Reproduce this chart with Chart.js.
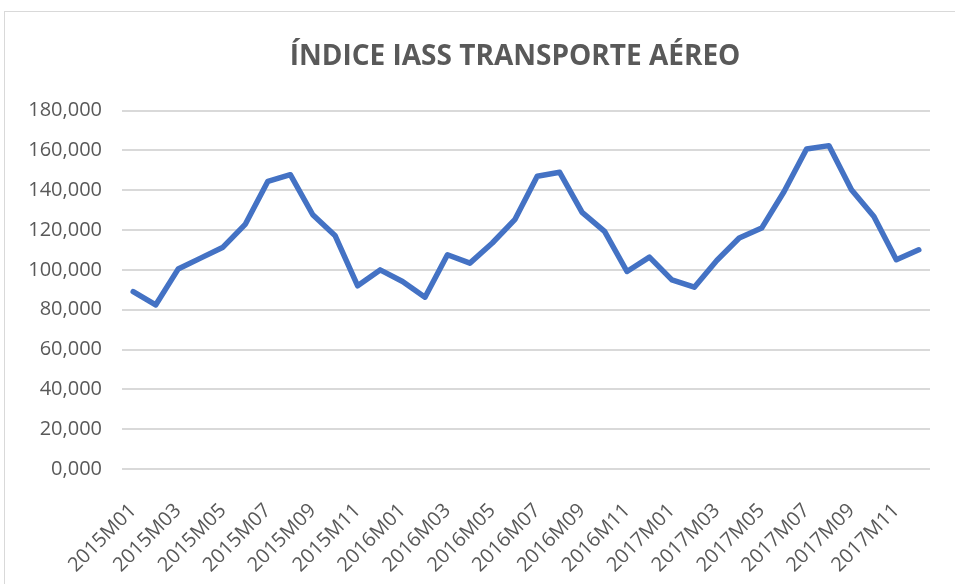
<!DOCTYPE html>
<html>
<head>
<meta charset="utf-8">
<script src="https://cdn.jsdelivr.net/npm/chart.js@4/dist/chart.umd.min.js"></script>
<style>
  body { margin: 0; background: #fff; overflow: hidden; }
  #frame { position: absolute; left: 4px; top: 11px; width: 1100px; height: 1000px; border: 1px solid #d9d9d9; }
  #wrap { position: absolute; left: 0; top: 0; width: 1020px; height: 584px; }
</style>
</head>
<body>
<div id="frame"></div>
<div id="wrap"><canvas id="iassChart"></canvas></div>
<script>
// months 2015M01 .. 2017M12
var years = ['2015', '2016', '2017'];
var months = ['01', '02', '03', '04', '05', '06', '07', '08', '09', '10', '11', '12'];
var labels = [];
for (var y = 0; y < years.length; y++) {
    for (var m = 0; m < months.length; m++) {
        labels.push(years[y] + 'M' + months[m]);
    }
}

// indice IASS transporte aereo
var values2015 = [89.1, 82.4, 100.4, 105.9, 111.4, 123.0, 144.5, 147.8, 127.7, 117.1, 92.0, 100.0];
var values2016 = [94.2, 86.3, 107.6, 103.4, 113.5, 125.2, 147.0, 149.0, 128.9, 119.3, 99.2, 106.4];
var values2017 = [95.0, 91.3, 104.7, 116.0, 121.0, 139.4, 160.7, 162.4, 140.3, 126.8, 105.1, 110.1];
var values = values2015.concat(values2016, values2017);

var yTicks = [0, 20, 40, 60, 80, 100, 120, 140, 160, 180];

var textGray = '#595959';

var ctx = document.getElementById('iassChart').getContext('2d');
var chart = new Chart(ctx, {
    type: 'line',
    data: {
        labels: labels,
        datasets: [{
            label: 'Índice IASS',
            data: values,
            borderColor: '#4472C4',
            backgroundColor: '#4472C4',
            borderWidth: 5.5,
            pointRadius: 0,
            fill: false,
            tension: 0,
            borderCapStyle: 'round',
            borderJoinStyle: 'round'
        }]
    },
    options: {
        responsive: true,
        maintainAspectRatio: false,
        animation: false,
        layout: { padding: { top: 12, left: 10, right: 0, bottom: 0 } },
        plugins: {
            legend: { display: false },
            tooltip: { enabled: false },
            title: {
                display: true,
                text: 'ÍNDICE IASS TRANSPORTE AÉREO',
                color: textGray,
                font: { family: 'Open Sans', size: 28, weight: 'bold' },
                padding: { top: 28, bottom: 37 }
            }
        },
        scales: {
            x: {
                offset: true,
                grid: { display: false },
                border: { display: false },
                ticks: {
                    autoSkip: false,
                    minRotation: 45,
                    maxRotation: 45,
                    color: textGray,
                    font: { family: 'Open Sans', size: 20 },
                    padding: 22,
                    callback: function (val, i) {
                        return i % 2 === 0 ? labels[i] : null;
                    }
                },
                afterFit: function (scale) { scale.height = 115; }
            },
            y: {
                min: 0,
                max: 180,
                afterBuildTicks: function (scale) {
                    scale.ticks = yTicks.map(function (v) { return { value: v }; });
                },
                grid: { color: '#d9d9d9', lineWidth: 2, drawTicks: false },
                border: { display: false },
                ticks: {
                    color: textGray,
                    font: { family: 'Open Sans', size: 20 },
                    padding: 20,
                    callback: function (v) { return v.toFixed(3).replace('.', ','); }
                },
                afterFit: function (scale) { scale.width = 112; }
            },
            // empty right-hand space so the title sits over the full frame
            yRight: {
                position: 'right',
                min: 0,
                max: 180,
                grid: { display: false },
                border: { display: false },
                ticks: { display: false },
                afterFit: function (scale) { scale.width = 90; }
            }
        }
    }
});
</script>
</body>
</html>
